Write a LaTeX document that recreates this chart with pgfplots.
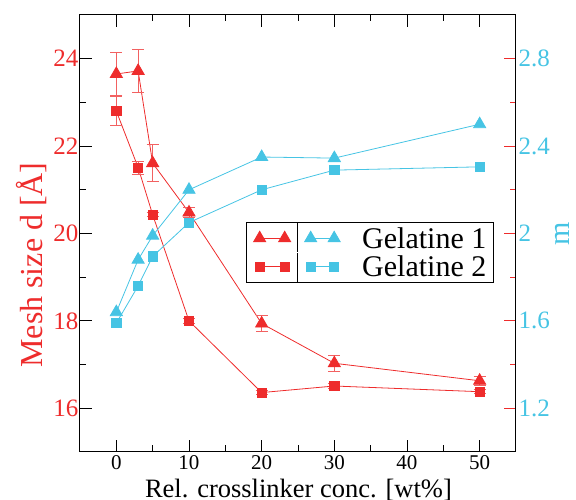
\documentclass[border=0pt]{standalone}
\usepackage{fontspec}
\setmainfont{Liberation Serif}
\usepackage{pgfplots}
\usepackage{pgfplotstable}
\pgfplotsset{compat=1.18}
\definecolor{myred}{RGB}{238,44,44}
\definecolor{mycyan}{RGB}{70,196,228}
\pgfplotsset{
  legone/.style={legend image code/.code={
    \draw[myred, line width=0.8pt, mark=triangle*, mark size=7pt] plot coordinates {(0pt,0pt) (25pt,0pt)};
    \draw[black, line width=0.8pt] (38pt,-13.75pt) -- (38pt,15.25pt);
    \draw[##1] plot coordinates {(51pt,0pt) (74.5pt,0pt)};
  }},
  legtwo/.style={legend image code/.code={
    \draw[myred, line width=0.8pt, mark=square*, mark size=4.6pt] plot coordinates {(0pt,0pt) (25pt,0pt)};
    \draw[black, line width=0.8pt] (38pt,-15.25pt) -- (38pt,13.75pt);
    \draw[##1] plot coordinates {(51pt,0pt) (74.5pt,0pt)};
  }},
}
\pgfplotstableread{
x y e
0 23.65 0.50
3 23.72 0.49
5 21.61 0.42
10 20.48 0.12
20 17.94 0.18
30 17.03 0.18
50 16.63 0.10
}\gonea
\pgfplotstableread{
x y e
0 22.80 0.33
3 21.51 0.15
5 20.43 0.05
10 18.00 0.05
20 16.36 0.05
30 16.51 0.05
50 16.38 0.05
}\gtwoa
\pgfplotstableread{
x y
0 1.64
3 1.88
5 1.99
10 2.20
20 2.35
30 2.345
50 2.50
}\goneb
\pgfplotstableread{
x y
0 1.59
3 1.76
5 1.895
10 2.05
20 2.20
30 2.29
50 2.305
}\gtwob
\begin{document}
\begin{tikzpicture}
\path[use as bounding box] (-80pt,-48pt) rectangle (496pt,452pt);
\begin{axis}[
  width=436pt, height=437pt, scale only axis,
  xmin=-5, xmax=55, ymin=15, ymax=25,
  xtick={0,10,20,30,40,50}, minor x tick num=1,
  ytick={16,18,20,22,24}, minor y tick num=1,
  ytick pos=left, xtick pos=both,
  tick align=inside,
  major tick length=12pt, minor tick length=6.5pt,
  every tick/.style={black, line width=0.8pt},
  axis line style={line width=1pt},
  /pgf/number format/assume math mode=true,
  x tick label style={font=\fontsize{21}{21}\selectfont},
  y tick label style={font=\fontsize{25}{25}\selectfont, color=myred, xshift=2pt},
  xlabel={Rel. crosslinker conc. [wt\%]},
  xlabel style={font=\fontsize{26.5}{26.5}\selectfont, at={(axis description cs:0.501,-0.105)}, anchor=base},
  ylabel={Mesh size d [Å]},
  ylabel style={font=\fontsize{32}{32}\selectfont, color=myred, at={(axis description cs:-0.112,0.428)}, anchor=center},
]
\addplot[myred, line width=0.8pt, mark=triangle*, mark size=7pt,
  error bars/.cd, y dir=both, y explicit,
  error bar style={line width=0.8pt, myred!75},
  error mark options={rotate=90, mark size=6pt, line width=0.8pt, myred!75}]
  table[x=x, y=y, y error=e] {\gonea};
\addplot[myred, line width=0.8pt, mark=square*, mark size=4.6pt,
  error bars/.cd, y dir=both, y explicit,
  error bar style={line width=0.8pt, myred!75},
  error mark options={rotate=90, mark size=6pt, line width=0.8pt, myred!75}]
  table[x=x, y=y, y error=e] {\gtwoa};
\end{axis}
\begin{axis}[
  width=436pt, height=437pt, scale only axis,
  xmin=-5, xmax=55, ymin=1, ymax=3,
  axis x line=none, axis y line*=right,
  ytick={1.2,1.6,2,2.4,2.8}, minor y tick num=1,
  tick align=inside,
  major tick length=12pt, minor tick length=6pt,
  every tick/.style={myred, line width=0.8pt},
  axis line style={line width=1pt, black},
  /pgf/number format/assume math mode=true,
  y tick label style={font=\fontsize{25}{25}\selectfont, color=mycyan, xshift=-1pt},
  ylabel={m},
  ylabel style={font=\fontsize{30}{30}\selectfont, color=mycyan, at={(axis description cs:1.107,0.5)}, anchor=center},
  legend style={at={(axis description cs:0.381,0.526)}, anchor=north west,
    draw=black, line width=1pt, fill=white,
    inner xsep=7pt, inner ysep=0pt, row sep=0pt, column sep=22pt,
    font=\fontsize{30}{30}\selectfont,
    nodes={inner sep=0pt, text height=23.5pt, text depth=4pt}},
  legend cell align=left,
]
\addplot[mycyan, line width=0.8pt, mark=triangle*, mark size=7pt, legone]
  table[x=x, y=y] {\goneb};
\addlegendentry{Gelatine 1}
\addplot[mycyan, line width=0.8pt, mark=square*, mark size=4.6pt, legtwo]
  table[x=x, y=y] {\gtwob};
\addlegendentry{Gelatine 2}
\end{axis}
\end{tikzpicture}
\end{document}
